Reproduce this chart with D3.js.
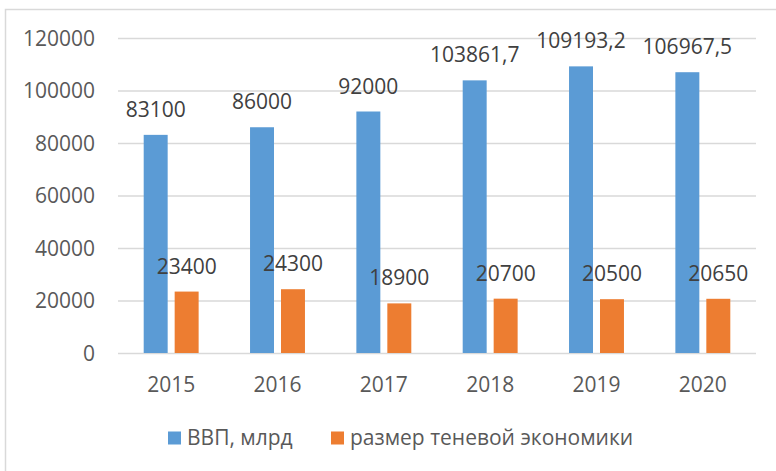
<!DOCTYPE html>
<html>
<head>
<meta charset="utf-8">
<script src="https://cdn.jsdelivr.net/npm/d3@7"></script>
<style>
  html, body { margin: 0; padding: 0; background: #fff; }
  svg { display: block; }
  text { font-family: "Open Sans", "Noto Sans", sans-serif; }
</style>
</head>
<body>
<svg id="chart" width="776" height="471"></svg>
<script>
// Years on the category axis
const years = ["2015", "2016", "2017", "2018", "2019", "2020"];
// GDP, bn
const gdp = [83100, 86000, 92000, 103861.7, 109193.2, 106967.5];
// Size of the shadow economy
const shadow = [23400, 24300, 18900, 20700, 20500, 20650];
// Series names shown in the legend
const seriesNames = ["ВВП, млрд", "размер теневой экономики"];
const seriesColors = ["#5B9BD5", "#ED7D31"];
// Value axis ticks
const yTicks = [0, 20000, 40000, 60000, 80000, 100000, 120000];

const svg = d3.select("#chart");
const W = 776, H = 471;
const plot = { left: 118, right: 756, top: 38, bottom: 353 };

// outer frame of the chart area
svg.append("rect")
  .attr("x", 5.5).attr("y", 9.5)
  .attr("width", W + 20).attr("height", H + 20)
  .attr("fill", "#fff")
  .attr("stroke", "#D9D9D9")
  .attr("stroke-width", 1.5);

const x0 = d3.scaleBand().domain(years).range([plot.left, plot.right]).padding(0);
const x1 = d3.scaleBand().domain([0, 1]).range([0, x0.bandwidth()])
  .paddingInner(0.226).paddingOuter(0.83);
const y = d3.scaleLinear().domain([0, 120000]).range([plot.bottom, plot.top]);

// horizontal gridlines and value labels
const yAxis = d3.axisLeft(y).tickValues(yTicks)
  .tickSize(-(plot.right - plot.left)).tickPadding(23)
  .tickFormat(d3.format("d"));
const gy = svg.append("g")
  .attr("transform", `translate(${plot.left},0)`)
  .call(yAxis);
gy.select(".domain").remove();
gy.selectAll(".tick line").attr("stroke", "#D9D9D9").attr("stroke-width", 1.3);
gy.selectAll(".tick text")
  .attr("fill", "#595959").attr("font-size", 21).attr("dy", "0.34em");

// category axis labels
const xAxis = d3.axisBottom(x0).tickSize(0).tickPadding(24);
const gx = svg.append("g")
  .attr("transform", `translate(0,${plot.bottom})`)
  .call(xAxis);
gx.select(".domain").remove();
gx.selectAll(".tick text").attr("fill", "#595959").attr("font-size", 21);

const rows = years.map((yr, i) => ({ year: yr, values: [gdp[i], shadow[i]] }));
const fmt = v => String(v).replace(".", ",");

const groups = svg.append("g").selectAll("g")
  .data(rows).join("g")
  .attr("transform", d => `translate(${x0(d.year)},0)`);

groups.selectAll("rect")
  .data(d => d.values.map((v, s) => ({ v, s })))
  .join("rect")
  .attr("x", d => x1(d.s))
  .attr("width", x1.bandwidth())
  .attr("y", d => y(d.v))
  .attr("height", d => y(0) - y(d.v))
  .attr("fill", d => seriesColors[d.s]);

groups.selectAll("text.val")
  .data(d => d.values.map((v, s) => ({ v, s })))
  .join("text")
  .attr("class", "val")
  .attr("x", d => x1(d.s) + x1.bandwidth() / 2 + (d.s === 0 ? 0 : 0))
  .attr("y", d => y(d.v) - 18)
  .attr("text-anchor", "middle")
  .attr("fill", "#404040")
  .attr("font-size", 21)
  .text(d => fmt(d.v));

// legend
const legendItems = [{ x: 168, name: seriesNames[0], color: seriesColors[0] },
                     { x: 331, name: seriesNames[1], color: seriesColors[1] }];
const lg = svg.append("g");
legendItems.forEach(it => {
  lg.append("rect").attr("x", it.x).attr("y", 431.5)
    .attr("width", 13).attr("height", 13).attr("fill", it.color);
  lg.append("text").attr("x", it.x + 19).attr("y", 445)
    .attr("fill", "#595959").attr("font-size", 21).text(it.name);
});
</script>
</body>
</html>
